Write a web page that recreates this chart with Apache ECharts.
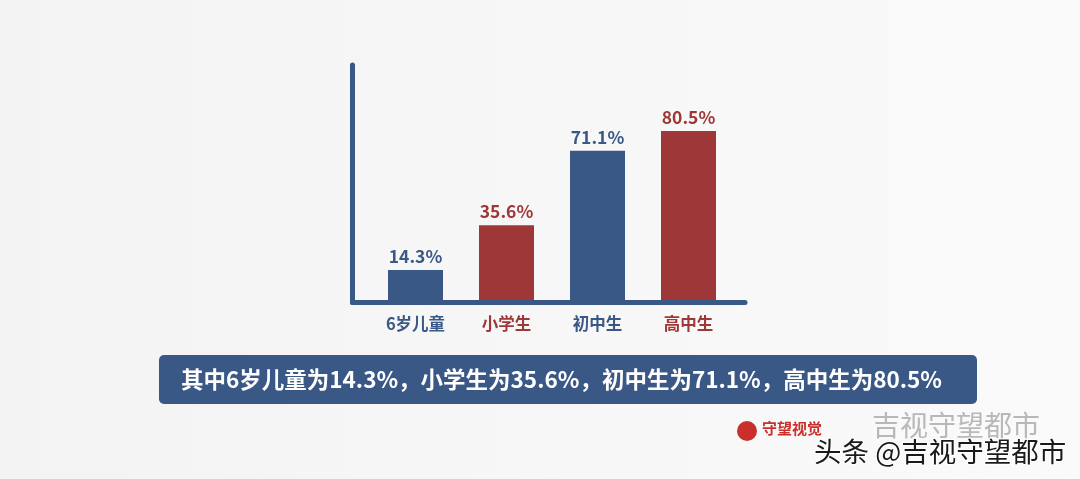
<!DOCTYPE html>
<html>
<head>
<meta charset="utf-8">
<script src="https://cdn.jsdelivr.net/npm/echarts@6/dist/echarts.min.js"></script>
<style>
html,body{margin:0;padding:0;background:#f6f6f6;}
#chart{width:1080px;height:479px;}
</style>
</head>
<body>
<div id="chart"></div>
<script>
var categories = ['6岁儿童', '小学生', '初中生', '高中生'];
var values = [14.3, 35.6, 71.1, 80.5];
var barColors = ['#3a5886', '#9e3737', '#3a5886', '#9e3737'];
var summaryText = '其中6岁儿童为14.3%，小学生为35.6%，初中生为71.1%，高中生为80.5%';

var FONT = '"Noto Sans CJK SC", "Noto Sans", sans-serif';
var chart = echarts.init(document.getElementById('chart'));

var option = {
  backgroundColor: {
    type: 'linear', x: 0, y: 0, x2: 1, y2: 0,
    colorStops: [
      {offset: 0, color: '#f3f3f3'},
      {offset: 0.5, color: '#f7f7f7'},
      {offset: 1, color: '#fafafa'}
    ]
  },
  animation: false,
  grid: [
    {left: 352.5, right: 335, top: 65, bottom: 176.5},
    {left: 370, right: 346, top: 90, bottom: 179}
  ],
  xAxis: [
    {
      gridIndex: 0, type: 'category', data: categories,
      axisLine: {show: true, lineStyle: {color: '#3a5886', width: 5}},
      axisTick: {show: false}, axisLabel: {show: false}, splitLine: {show: false}
    },
    {
      gridIndex: 1, type: 'category', data: categories,
      axisLine: {show: false}, axisTick: {show: false},
      axisLabel: {
        show: true, margin: 15,
        fontFamily: FONT, fontWeight: 'bold', fontSize: 16.5,
        color: function (v, i) { return barColors[i]; }
      }
    }
  ],
  yAxis: [
    {
      gridIndex: 0, type: 'value', min: 0, max: 100,
      axisLine: {show: true, lineStyle: {color: '#3a5886', width: 5}},
      axisTick: {show: false}, axisLabel: {show: false}, splitLine: {show: false}
    },
    {
      gridIndex: 1, type: 'value', min: 0, max: 100,
      axisLine: {show: false}, axisTick: {show: false},
      axisLabel: {show: false}, splitLine: {show: false}
    }
  ],
  series: [
    {
      type: 'bar', xAxisIndex: 1, yAxisIndex: 1,
      barWidth: 55,
      data: values.map(function (v, i) {
        return {
          value: v,
          itemStyle: {color: barColors[i]},
          label: {color: barColors[i]}
        };
      }),
      label: {
        show: true, position: 'top', distance: 5,
        fontFamily: FONT, fontWeight: 'bold', fontSize: 17.5,
        formatter: function (p) { return p.value.toFixed(1) + '%'; }
      }
    }
  ],
  graphic: [
    {
      type: 'rect', left: 159, top: 355, z: 10,
      shape: {width: 818, height: 49, r: 5},
      style: {fill: '#3a5886'}
    },
    {
      type: 'text', left: 181, top: 368, z: 11,
      style: {
        text: summaryText, fill: '#ffffff',
        font: 'bold 22.5px ' + FONT
      }
    },
    {
      type: 'circle', left: 737, top: 421, z: 10,
      shape: {r: 10}, style: {fill: '#c9302c'}
    },
    {
      type: 'text', left: 762, top: 421, z: 10,
      style: {text: '守望视觉', fill: '#c9302c', font: 'bold 15px ' + FONT}
    },
    {
      type: 'text', left: 872, top: 411, z: 10,
      style: {text: '吉视守望都市', fill: 'rgba(120,120,120,0.5)', font: '28px ' + FONT}
    },
    {
      type: 'text', left: 813, top: 437, z: 12,
      style: {
        text: '头条 @吉视守望都市', fill: '#1a1a1a',
        font: '27.5px ' + FONT,
        stroke: '#ffffff', lineWidth: 2
      }
    }
  ]
};
chart.setOption(option);
</script>
</body>
</html>
